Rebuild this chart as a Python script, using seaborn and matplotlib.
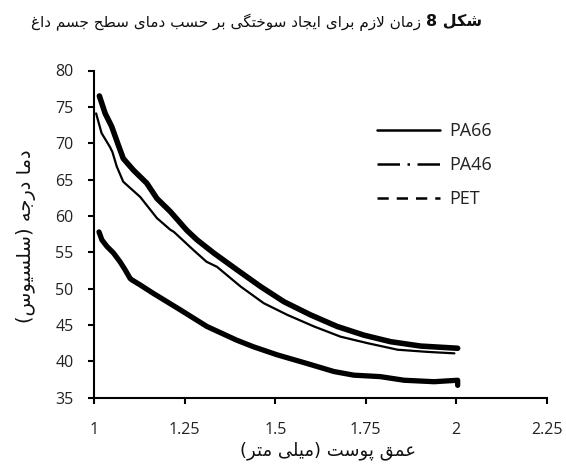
import numpy as np
import pandas as pd
import matplotlib
matplotlib.use("Agg")
import matplotlib.pyplot as plt
from matplotlib.lines import Line2D
import seaborn as sns

# ---------------- data ----------------
pa66_x = [1.014, 1.03, 1.048, 1.066, 1.08, 1.108, 1.145, 1.173, 1.21, 1.256, 1.284, 1.33,
          1.394, 1.459, 1.524, 1.597, 1.671, 1.745, 1.819, 1.902, 2.004]
pa66_y = [76.5, 74.1, 72.3, 69.8, 67.9, 66.3, 64.5, 62.4, 60.6, 58.0, 56.7, 54.9,
          52.6, 50.3, 48.2, 46.4, 44.8, 43.6, 42.7, 42.1, 41.8]

pa46_x = [1.005, 1.02, 1.043, 1.05, 1.062, 1.08, 1.127, 1.173, 1.21, 1.22, 1.274, 1.31,
          1.339, 1.404, 1.468, 1.533, 1.607, 1.68, 1.755, 1.838, 1.921, 1.995]
pa46_y = [74.1, 71.4, 69.5, 68.8, 66.8, 64.7, 62.6, 59.7, 58.1, 57.8, 55.3, 53.7,
          53.0, 50.3, 48.0, 46.4, 44.8, 43.4, 42.5, 41.6, 41.3, 41.1]

pet_x = [1.013, 1.021, 1.035, 1.053, 1.071, 1.085, 1.099, 1.104, 1.127, 1.163, 1.237,
         1.311, 1.394, 1.44, 1.505, 1.588, 1.662, 1.717, 1.79, 1.856, 1.939, 2.004, 2.004]
pet_y = [57.8, 56.7, 55.8, 54.9, 53.7, 52.6, 51.4, 51.2, 50.5, 49.35, 47.1,
         44.8, 42.9, 42.0, 40.9, 39.7, 38.6, 38.1, 37.9, 37.4, 37.2, 37.4, 36.7]

series_names = ["PA66", "PA46", "PET"]
x_ticks = [1, 1.25, 1.5, 1.75, 2, 2.25]
x_tick_labels = ["1", "1.25", "1.5", "1.75", "2", "2.25"]
y_ticks = [35, 40, 45, 50, 55, 60, 65, 70, 75, 80]

title_bold = "شکل 8"
title_rest = "زمان لازم برای ایجاد سوختگی بر حسب دمای سطح جسم داغ"
y_label = "دما درجه (سلسیوس)"
x_label = "عمق پوست (میلی متر)"

# -------------- minimal Persian shaping + RTL ordering --------------
FORMS = {
    "ا": ("\uFE8D", "\uFE8E"), "د": ("\uFEA9", "\uFEAA"), "ر": ("\uFEAD", "\uFEAE"),
    "ز": ("\uFEAF", "\uFEB0"), "و": ("\uFEED", "\uFEEE"),
    "ب": ("\uFE8F", "\uFE90", "\uFE91", "\uFE92"), "ت": ("\uFE95", "\uFE96", "\uFE97", "\uFE98"),
    "ج": ("\uFE9D", "\uFE9E", "\uFE9F", "\uFEA0"), "ح": ("\uFEA1", "\uFEA2", "\uFEA3", "\uFEA4"),
    "خ": ("\uFEA5", "\uFEA6", "\uFEA7", "\uFEA8"), "س": ("\uFEB1", "\uFEB2", "\uFEB3", "\uFEB4"),
    "ش": ("\uFEB5", "\uFEB6", "\uFEB7", "\uFEB8"), "ط": ("\uFEC1", "\uFEC2", "\uFEC3", "\uFEC4"),
    "ع": ("\uFEC9", "\uFECA", "\uFECB", "\uFECC"), "غ": ("\uFECD", "\uFECE", "\uFECF", "\uFED0"),
    "ق": ("\uFED5", "\uFED6", "\uFED7", "\uFED8"), "ل": ("\uFEDD", "\uFEDE", "\uFEDF", "\uFEE0"),
    "م": ("\uFEE1", "\uFEE2", "\uFEE3", "\uFEE4"), "ن": ("\uFEE5", "\uFEE6", "\uFEE7", "\uFEE8"),
    "ه": ("\uFEE9", "\uFEEA", "\uFEEB", "\uFEEC"), "پ": ("\uFB56", "\uFB57", "\uFB58", "\uFB59"),
    "ک": ("\uFB8E", "\uFB8F", "\uFB90", "\uFB91"), "گ": ("\uFB92", "\uFB93", "\uFB94", "\uFB95"),
    "ی": ("\uFBFC", "\uFBFD", "\uFBFE", "\uFBFF"),
}


def shape(s):
    out = []
    i = 0
    n = len(s)
    while i < n:
        c = s[i]
        if c not in FORMS:
            out.append(c)
            i += 1
            continue
        prev = s[i - 1] if i > 0 else ""
        nxt = s[i + 1] if i + 1 < n else ""
        prev_joins = prev in FORMS and len(FORMS[prev]) == 4
        if c == "ل" and nxt == "ا":
            out.append("\uFEFC" if prev_joins else "\uFEFB")
            i += 2
            continue
        f = FORMS[c]
        next_joins = nxt in FORMS and len(f) == 4
        if prev_joins and next_joins:
            out.append(f[3])
        elif prev_joins:
            out.append(f[1])
        elif next_joins:
            out.append(f[2])
        else:
            out.append(f[0])
        i += 1
    return "".join(out)


def rtl(s):
    t = shape(s)[::-1]
    mirror = {"(": ")", ")": "("}
    t = "".join(mirror.get(ch, ch) for ch in t)
    res, run = [], []
    for ch in t:
        if ch.isdigit() or ch == ".":
            run.append(ch)
        else:
            if run:
                res.extend(run[::-1]); run = []
            res.append(ch)
    if run:
        res.extend(run[::-1])
    return "".join(res)


# ---------------- plot ----------------
sns.set_theme(style="white")
plt.rcParams["font.family"] = ["Open Sans", "DejaVu Sans"]
FA = ["DejaVu Sans"]

W, H = 566, 467
fig = plt.figure(figsize=(W / 100, H / 100), dpi=100)
ax = fig.add_axes([94.3 / W, 1 - 397.7 / H, (546.7 - 94.3) / W, (397.7 - 70.5) / H])

sns.lineplot(x=pa66_x, y=pa66_y, ax=ax, color="black", lw=4.0, sort=False,
             estimator=None, solid_capstyle="round", solid_joinstyle="round", legend=False)
sns.lineplot(x=pa46_x, y=pa46_y, ax=ax, color="black", lw=1.6, sort=False,
             estimator=None, solid_capstyle="round", solid_joinstyle="round", legend=False)
sns.lineplot(x=pet_x, y=pet_y, ax=ax, color="black", lw=3.8, sort=False,
             estimator=None, solid_capstyle="round", solid_joinstyle="round", legend=False)

ax.set_xlim(1, 2.25)
ax.set_ylim(35, 80)
ax.set_xticks(x_ticks)
ax.set_xticklabels(x_tick_labels)
ax.set_yticks(y_ticks)
ax.set_xlabel("")
ax.set_ylabel("")
for sp in ["top", "right"]:
    ax.spines[sp].set_visible(False)
for sp in ["left", "bottom"]:
    ax.spines[sp].set_color("black")
    ax.spines[sp].set_linewidth(1.5)
ax.tick_params(axis="both", which="major", bottom=True, left=True, direction="out",
               width=1.5, color="black", labelsize=11.5, labelcolor="#222222")
ax.tick_params(axis="y", length=4, pad=11)
ax.tick_params(axis="x", length=4.5, pad=13)

handles = [
    Line2D([], [], color="black", lw=1.8, ls="-"),
    Line2D([], [], color="black", lw=1.8, ls=(0, (9, 3, 1, 3))),
    Line2D([], [], color="black", lw=1.8, ls=(0, (4.5, 3.2))),
]
leg = ax.legend(handles, series_names, loc="upper left",
                bbox_to_anchor=((376.7 - 94.3) / 452.4, (397.7 - 122) / 327.2),
                frameon=False, fontsize=13, handlelength=3.5, handletextpad=0.5,
                labelspacing=0.9, borderpad=0, borderaxespad=0)
for t in leg.get_texts():
    t.set_color("#222222")

# labels
fig.text(26 / W, 1 - 236 / H, rtl(y_label), rotation=90, ha="center", va="center",
         fontsize=14, family=FA, color="#111111")
fig.text(328 / W, 1 - 451 / H, rtl(x_label), ha="center", va="center",
         fontsize=13, family=FA, color="#111111")

# title: bold part on the right, regular part to its left
TITLE_RIGHT, TY = 482, 1 - 22 / H
fs = 11.0
tb = fig.text(TITLE_RIGHT / W, TY, rtl(title_bold), ha="right", va="center",
              fontsize=fs + 0.5, family=FA, fontweight="bold", color="#111111")
fig.canvas.draw()
bb = tb.get_window_extent()
fig.text((bb.x0 - 0.45 * fs) / W, TY, rtl(title_rest), ha="right", va="center",
         fontsize=fs, family=FA, color="#111111")

fig.savefig("out.png", dpi=100)
